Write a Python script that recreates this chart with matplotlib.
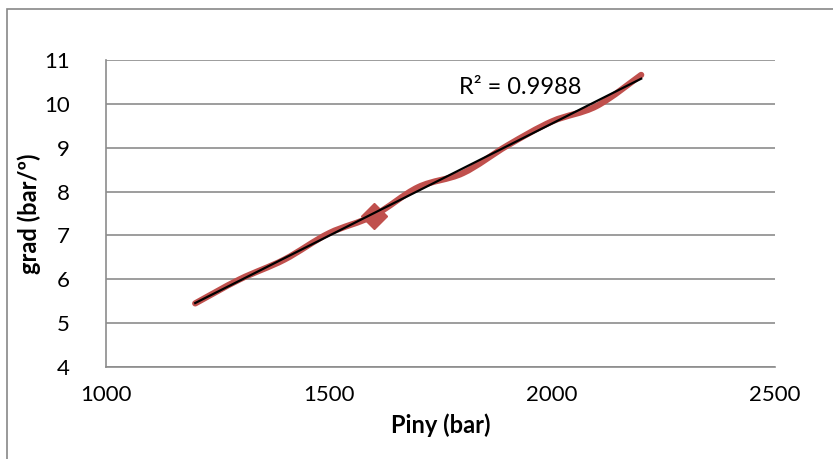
import numpy as np
import matplotlib.pyplot as plt
from matplotlib.path import Path
from matplotlib.patches import PathPatch, Rectangle

# injection pressure (bar) vs gradient (bar/º)
piny = [1200, 1300, 1400, 1500, 1600, 1700, 1800, 1900, 2000, 2100, 2200]
grad = [5.45, 6.0, 6.45, 7.05, 7.45, 8.1, 8.42, 9.05, 9.6, 9.95, 10.66]
marked = 4  # index of the point shown with a marker

x_ticks = [1000, 1500, 2000, 2500]
y_ticks = [4, 5, 6, 7, 8, 9, 10, 11]

red = '#C0504D'
grid_grey = '#8C8C8C'
plt.rcParams['font.family'] = ['Lato', 'DejaVu Sans']


def smooth_path(xs, ys, t=1 / 6):
    # Catmull-Rom style bezier path, like a spreadsheet "smoothed line"
    pts = np.column_stack([xs, ys]).astype(float)
    verts = [pts[0]]
    codes = [Path.MOVETO]
    n = len(pts)
    for i in range(n - 1):
        p0 = pts[max(i - 1, 0)]
        p1 = pts[i]
        p2 = pts[i + 1]
        p3 = pts[min(i + 2, n - 1)]
        c1 = p1 + (p2 - p0) * t
        c2 = p2 - (p3 - p1) * t
        verts += [c1, c2, p2]
        codes += [Path.CURVE4] * 3
    return Path(verts, codes)


fig = plt.figure(figsize=(8.33, 4.59), dpi=100)
ax = fig.add_axes([106 / 833, 1 - 367 / 459, 669 / 833, 307 / 459])

# outer chart border
fig.patches.append(Rectangle((7 / 833, -0.1), 1.2, 1 - 9 / 459 + 0.1,
                             transform=fig.transFigure, fill=False,
                             edgecolor='#878787', lw=1.2))

ax.add_patch(PathPatch(smooth_path(piny, grad), facecolor='none',
                       edgecolor=red, lw=4.5, capstyle='round', zorder=3))
ax.plot([piny[marked]], [grad[marked]], marker='D', ms=13, color=red,
        ls='none', zorder=4)

# linear trendline
k, b = np.polyfit(piny, grad, 1)
ax.plot([piny[0], piny[-1]], np.polyval([k, b], [piny[0], piny[-1]]),
        color='black', lw=1.6, zorder=5)
ax.text(1792, 10.38, 'R² = 0.9988', fontsize=17, va='center',
        ha='left', zorder=6)

ax.set_xlim(1000, 2500)
ax.set_ylim(4, 11)
ax.set_xticks(x_ticks)
ax.set_yticks(y_ticks)
ax.tick_params(length=0, labelsize=16)
ax.tick_params(axis='x', pad=13)
ax.tick_params(axis='y', pad=26)
ax.grid(axis='y', color=grid_grey, lw=1.2)
ax.set_axisbelow(True)
for side in ['top', 'right']:
    ax.spines[side].set_visible(False)
ax.spines['left'].set_color(grid_grey)
ax.spines['bottom'].set_color(grid_grey)
ax.spines['left'].set_linewidth(1.2)
ax.spines['bottom'].set_linewidth(1.2)

ax.set_xlabel('Piny (bar)', fontsize=17, fontweight='bold', labelpad=6)
ax.set_ylabel('grad (bar/º)', fontsize=17, fontweight='bold', labelpad=2)

fig.savefig('out.png', dpi=100)
